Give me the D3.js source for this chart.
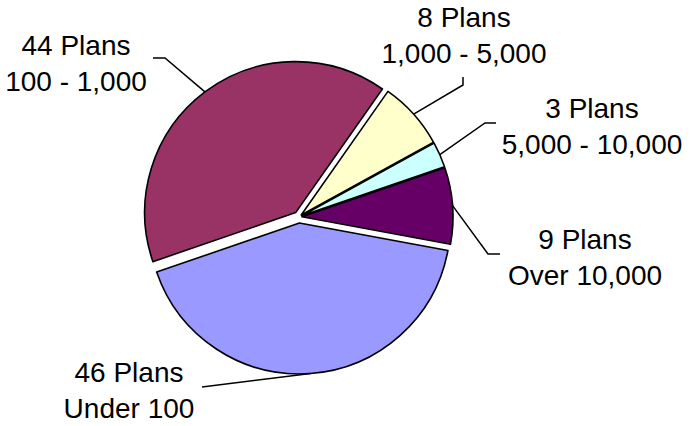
<!DOCTYPE html>
<html>
<head>
<meta charset="utf-8">
<script src="https://cdn.jsdelivr.net/npm/d3@7"></script>
<style>
  html, body { margin: 0; padding: 0; background: #fff; }
  svg { display: block; }
  text { font-family: "Liberation Sans", Arial, sans-serif; fill: #000; }
</style>
</head>
<body>
<svg id="chart" width="691" height="426"></svg>
<script>
// ---- data ----
const categories = ["Under 100", "100 - 1,000", "1,000 - 5,000", "5,000 - 10,000", "Over 10,000"];
const planCounts = [46, 44, 8, 3, 9];
const sliceColors = ["#9999FF", "#993366", "#FFFFCC", "#CCFFFF", "#660066"];

// ---- layout ----
const W = 691, H = 426;
const cx = 299, cy = 217, R = 151;
const explode = [6, 5.5, 3, 3, 3];
const fontSize = 28, lineGap = 36;
// label anchor (centre x, first baseline) and leader points from slice edge outward
const labelLayout = [
  { x: 129, y: 382, pts: [[202, 387]] },
  { x: 76,  y: 55,  pts: [[165, 58], [153, 58]] },
  { x: 464, y: 27,  pts: [[463, 85], [463, 77]] },
  { x: 592, y: 118, pts: [[485, 123], [496, 123]] },
  { x: 585, y: 249, pts: [[488, 254], [500, 254]] }
];

const svg = d3.select("#chart");
const data = categories.map((c, i) => ({ cat: c, value: planCounts[i], color: sliceColors[i], i }));

const start = 100.5 * Math.PI / 180;
const pie = d3.pie().value(d => d.value).sort(null).startAngle(start).endAngle(start + 2 * Math.PI);
const arcs = pie(data);
const arc = d3.arc().innerRadius(0).outerRadius(R);

const g = svg.append("g");

const slice = g.selectAll("g.slice").data(arcs).enter().append("g")
  .attr("class", "slice")
  .attr("transform", d => {
    const mid = (d.startAngle + d.endAngle) / 2;
    const e = explode[d.index];
    return `translate(${cx + e * Math.sin(mid)},${cy - e * Math.cos(mid)})`;
  });

slice.append("path")
  .attr("d", arc)
  .attr("fill", d => d.data.color)
  .attr("stroke", "#000")
  .attr("stroke-width", 1.6)
  .attr("stroke-linejoin", "round");

// leader lines
arcs.forEach(d => {
  const mid = (d.startAngle + d.endAngle) / 2;
  const e = explode[d.index];
  const ox = cx + e * Math.sin(mid), oy = cy - e * Math.cos(mid);
  const p0 = [ox + R * Math.sin(mid), oy - R * Math.cos(mid)];
  const lay = labelLayout[d.index];
  g.append("path")
    .attr("d", d3.line()([p0, ...lay.pts]))
    .attr("fill", "none")
    .attr("stroke", "#000")
    .attr("stroke-width", 1.5);
});

// labels
arcs.forEach(d => {
  const lay = labelLayout[d.index];
  const t = g.append("text")
    .attr("text-anchor", "middle")
    .attr("font-size", fontSize);
  t.append("tspan").attr("x", lay.x).attr("y", lay.y).text(`${d.data.value} Plans`);
  t.append("tspan").attr("x", lay.x).attr("y", lay.y + lineGap).text(d.data.cat);
});
</script>
</body>
</html>
